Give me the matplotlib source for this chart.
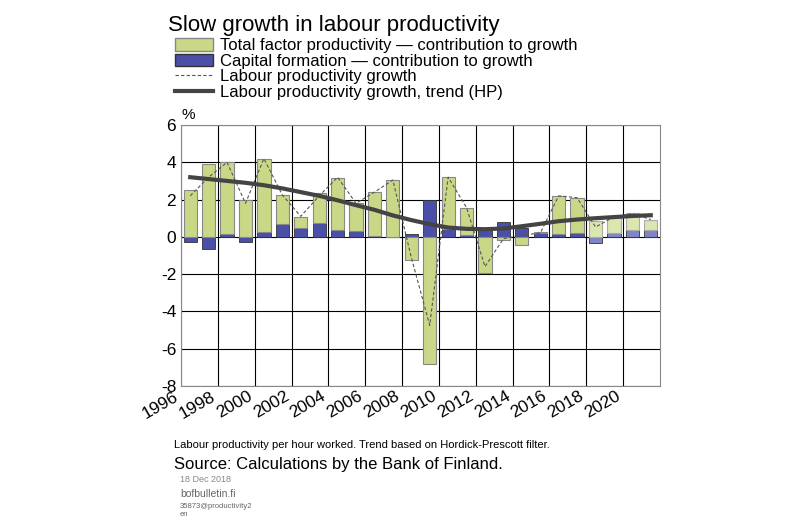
import matplotlib
matplotlib.use("Agg")
import matplotlib.pyplot as plt
import numpy as np
from matplotlib.patches import Patch
from matplotlib.lines import Line2D

plt.rcParams['font.family'] = 'Liberation Sans'
plt.rcParams['axes.unicode_minus'] = False

years = list(range(1996, 2022))
tfp = [2.53,3.89,3.86,2.0,3.9,1.55,0.63,1.57,2.79,1.5,2.36,3.05,-1.25,-6.8,2.8,1.48,-1.96,-0.18,-0.41,0.05,2.0,1.9,0.84,0.86,0.91,0.54]
cap = [-0.3,-0.65,0.14,-0.3,0.28,0.7,0.46,0.77,0.39,0.3,0.07,-0.03,0.18,2.0,0.4,0.09,0.35,0.78,0.5,0.23,0.18,0.2,-0.35,0.23,0.39,0.39]
lp = [2.2,3.2,4.0,1.8,4.2,2.25,1.1,2.2,3.2,1.8,2.4,3.05,-1.1,-4.75,3.2,1.57,-1.6,-0.1,0.1,0.2,2.2,2.1,0.53,1.07,1.25,0.93]
trend = [3.2,3.1,3.0,2.9,2.77,2.6,2.4,2.2,1.96,1.7,1.45,1.15,0.9,0.68,0.5,0.43,0.41,0.45,0.57,0.7,0.84,0.93,1.0,1.06,1.12,1.16]
xticks = list(range(1996, 2022, 2))

fig = plt.figure(figsize=(8, 5.22), dpi=100)
ax = fig.add_axes([181/800, 1-386/522, 479/800, 261/522])

x = np.array(years)
tfp_a = np.array(tfp); cap_a = np.array(cap)
fc = ['#c9d887' if y < 2018 else '#dbe6b0' for y in years]
bc = ['#4a4fa8' if y < 2018 else '#8085c5' for y in years]
ec = ['#888888' if y < 2018 else '#aaaaaa' for y in years]
tfp_bottom = np.where((tfp_a >= 0) & (cap_a > 0), cap_a, 0) + np.where((tfp_a < 0) & (cap_a < 0), cap_a, 0)
ax.bar(x, cap_a, width=0.72, color=bc, edgecolor='#333333', linewidth=0.6, zorder=3)
ax.bar(x, tfp_a, bottom=tfp_bottom, width=0.72, color=fc, edgecolor=ec, linewidth=0.8, zorder=3)
ax.plot(x, lp, color='#555555', linestyle='--', linewidth=0.8, dashes=(3, 2), zorder=4)
ax.plot(x, trend, color='#444444', linewidth=3, zorder=5)

ax.set_xlim(1995.5, 2021.5)
ax.set_ylim(-8, 6)
ax.set_yticks(range(-8, 7, 2))
ax.set_xticks([v - 0.5 for v in xticks])
ax.set_xticklabels([str(v) for v in xticks], rotation=30, ha='right', fontsize=12.5)
ax.tick_params(axis='y', labelsize=12.5, length=0)
ax.tick_params(axis='x', length=0, pad=2)
ax.grid(True, color='black', linewidth=0.8, zorder=0)
for s in ax.spines.values():
    s.set_color('#888888')
ax.text(0.0, 1.01, '%', transform=ax.transAxes, fontsize=11, va='bottom')

fig.text(168/800, 1-25/522, 'Slow growth in labour productivity', fontsize=16, va='center')
handles = [Patch(facecolor='#c9d887', edgecolor='#888888'),
           Patch(facecolor='#4a4fa8', edgecolor='#333333'),
           Line2D([], [], color='#555555', linestyle='--', linewidth=0.8, dashes=(3, 2)),
           Line2D([], [], color='#444444', linewidth=3)]
labels = ['Total factor productivity — contribution to growth',
          'Capital formation — contribution to growth',
          'Labour productivity growth',
          'Labour productivity growth, trend (HP)']
fig.legend(handles, labels, loc='upper left', bbox_to_anchor=(175/800, 1-38/522), frameon=False,
           fontsize=12, handlelength=2.3, handleheight=0.8, labelspacing=0.02, borderaxespad=0, borderpad=0, handletextpad=0.4)
fig.text(174/800, 1-445/522, 'Labour productivity per hour worked. Trend based on Hordick-Prescott filter.', fontsize=8, va='center')
fig.text(174/800, 1-464/522, 'Source: Calculations by the Bank of Finland.', fontsize=12, va='center')
fig.text(180/800, 1-479/522, '18 Dec 2018', fontsize=6.5, color='#888888', va='center')
fig.text(180/800, 1-494/522, 'bofbulletin.fi', fontsize=7.5, color='#666666', va='center')
fig.text(180/800, 1-506/522, '35873@productivity2', fontsize=5.5, color='#666666', va='center')
fig.text(180/800, 1-515/522, 'en', fontsize=5.5, color='#666666', va='center')
fig.savefig('out.png', dpi=100)
